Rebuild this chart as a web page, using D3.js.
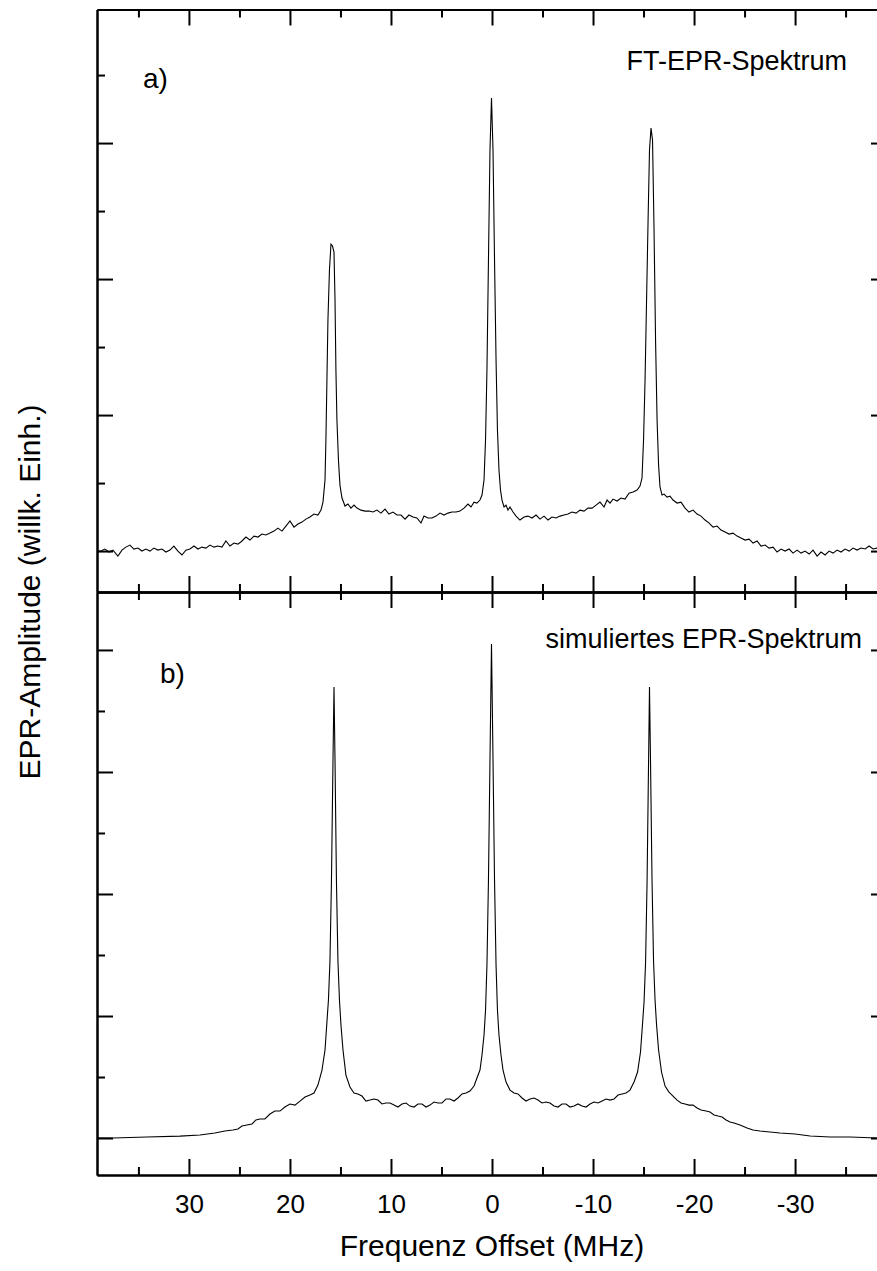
<!DOCTYPE html>
<html>
<head>
<meta charset="utf-8">
<script src="https://cdn.jsdelivr.net/npm/d3@7"></script>
<style>
  body { margin: 0; background: white; }
</style>
</head>
<body>
<div id="container"></div>
<script>
let w = 877;
let h = 1271;

// x axis (MHz), reversed
let xMajor = [30, 20, 10, 0, -10, -20, -30];
let xMinor = [35, 25, 15, 5, -5, -15, -25, -35];

// y ticks (arbitrary units)
let yTopMajor = [0, 100, 200, 300];
let yTopMinor = [50, 150, 250, 350];
let yBotMajor = [0, 100, 200, 300, 400];
let yBotMinor = [50, 150, 250, 350];

// a) FT-EPR spectrum: [MHz, amplitude]
let topSpectrum = [[39.11,0],[38.71,0],[38.32,1.5],[37.92,-0.7],[37.52,0.7],[37.03,-3.7],[36.63,0.7],[36.24,2.9],[35.84,4.4],[35.45,1.5],[35.05,2.2],[34.65,0],[34.26,1.5],[33.86,0],[33.47,2.2],[33.07,0.7],[32.67,1.5],[32.28,-0.7],[31.88,0.7],[31.49,3.7],[31.09,0],[30.69,-2.9],[30.30,0.7],[29.90,1.5],[29.50,3.7],[29.11,1.5],[28.71,2.9],[28.32,2.2],[27.92,4.4],[27.52,2.9],[27.13,3.7],[26.73,2.9],[26.34,7.4],[25.94,3.7],[25.54,5.9],[25.15,5.1],[24.75,7.4],[24.36,10.3],[23.96,8.1],[23.56,11],[23.17,10.3],[22.77,12.5],[22.38,11.8],[21.98,13.2],[21.58,14.7],[21.19,16.9],[20.79,14.7],[20.40,18.4],[20.00,22.1],[19.60,17.6],[19.21,19.9],[18.81,21.3],[18.42,23.5],[18.02,25],[17.62,27.2],[17.23,26.5],[16.93,30.1],[16.73,36],[16.53,52.2],[16.44,81.6],[16.34,125.7],[16.24,169.9],[16.09,206.6],[15.94,225.7],[15.79,224.3],[15.64,219.9],[15.54,184.6],[15.45,133.1],[15.35,96.3],[15.20,66.9],[15.05,48.5],[14.85,39],[14.55,33.1],[14.26,34.6],[13.96,31.6],[13.66,33.8],[13.37,31.6],[12.97,30.1],[12.57,29.4],[12.18,29.4],[11.78,28.7],[11.39,30.1],[10.99,27.9],[10.59,30.9],[10.20,27.2],[9.80,28.7],[9.41,26.5],[9.01,26.5],[8.61,23.5],[8.22,26.5],[7.82,25],[7.43,24.3],[7.03,20.6],[6.73,25.7],[6.34,24.3],[5.94,24.3],[5.54,25.7],[5.15,27.9],[4.75,26.5],[4.36,27.9],[3.96,28.7],[3.56,28.7],[3.17,29.4],[2.77,31.6],[2.38,34.6],[2.08,32.4],[1.78,36],[1.49,35.3],[1.19,37.5],[0.99,41.2],[0.79,52.2],[0.64,81.6],[0.50,133.1],[0.35,214],[0.20,294.9],[0.05,333.1],[-0.10,294.9],[-0.25,214],[-0.40,140.4],[-0.54,89],[-0.69,59.6],[-0.84,44.9],[-0.99,37.5],[-1.19,32.4],[-1.39,33.8],[-1.58,30.1],[-1.78,32.4],[-2.08,28.7],[-2.38,25.7],[-2.77,22.8],[-3.17,25],[-3.56,25.7],[-3.96,24.3],[-4.36,26.5],[-4.75,23.5],[-5.15,25.7],[-5.54,22.8],[-5.94,25],[-6.34,24.3],[-6.73,25.7],[-7.13,26.5],[-7.52,27.2],[-7.92,28.7],[-8.32,27.9],[-8.71,30.1],[-9.11,29.4],[-9.50,31.6],[-9.90,31.6],[-10.30,33.8],[-10.69,36],[-11.09,32.4],[-11.39,37.5],[-11.68,35.3],[-11.98,38.2],[-12.38,36.8],[-12.77,39],[-13.17,38.2],[-13.56,42.6],[-13.96,43.4],[-14.36,44.9],[-14.65,47.8],[-14.85,53.7],[-15.00,81.6],[-15.15,125.7],[-15.30,184.6],[-15.45,243.4],[-15.59,294.9],[-15.74,311],[-15.89,302.2],[-16.04,236],[-16.19,155.1],[-16.34,96.3],[-16.49,63.2],[-16.63,47.1],[-16.83,41.2],[-17.03,41.9],[-17.33,39.7],[-17.62,40.4],[-17.92,37.5],[-18.32,35.3],[-18.71,36],[-19.11,31.6],[-19.50,28.7],[-19.90,30.1],[-20.30,27.2],[-20.69,25.7],[-21.09,22.8],[-21.49,20.6],[-21.88,17.6],[-22.28,18.4],[-22.67,15.4],[-23.07,14],[-23.47,12.5],[-23.86,13.2],[-24.26,11],[-24.65,9.6],[-25.05,8.1],[-25.45,8.8],[-25.84,5.9],[-26.24,7.4],[-26.63,3.7],[-27.03,4.4],[-27.43,2.2],[-27.82,2.9],[-28.22,-0.7],[-28.61,1.5],[-29.01,0],[-29.41,1.5],[-29.80,-1.5],[-30.20,0.7],[-30.59,-1.5],[-30.99,0],[-31.39,-2.2],[-31.78,0.7],[-32.18,-3.7],[-32.57,-0.7],[-32.97,-2.9],[-33.37,0],[-33.76,-1.5],[-34.16,0.7],[-34.55,-0.7],[-34.95,1.5],[-35.35,0],[-35.74,2.2],[-36.14,0.7],[-36.53,2.2],[-36.93,1.5],[-37.33,3.7],[-37.72,1.5],[-38.12,2.2]];

// b) simulated spectrum: [MHz, amplitude]
let botSpectrum = [[39.11,0],[37.52,0],[34.16,0.8],[30.89,1.6],[28.91,2.5],[27.43,4.1],[26.44,5.7],[25.64,6.6],[25.15,7.4],[24.75,9.8],[24.26,10.7],[23.76,11.5],[23.37,14.8],[22.97,15.6],[22.48,15.6],[21.98,19.7],[21.49,22.1],[20.99,22.1],[20.50,25.4],[20.00,27.9],[19.50,27],[19.01,30.3],[18.51,33.6],[18.02,35.2],[17.62,36.9],[17.23,43.4],[16.83,55.7],[16.53,72.1],[16.34,95.1],[16.19,113.1],[16.04,145.1],[15.89,211.5],[15.74,309.8],[15.64,369.7],[15.54,309.8],[15.40,211.5],[15.25,145.1],[15.10,113.1],[14.95,92.6],[14.75,72.1],[14.46,51.6],[14.06,41.8],[13.66,36.9],[13.27,36.1],[12.87,34.4],[12.48,30.3],[12.08,31.1],[11.68,32],[11.29,31.1],[10.89,27.9],[10.50,28.7],[10.10,28.7],[9.70,27],[9.31,25.4],[8.91,27.9],[8.51,28.7],[8.12,26.2],[7.72,25.4],[7.33,27.9],[6.93,27.9],[6.53,25.4],[6.14,27],[5.74,29.5],[5.35,28.7],[4.95,28.7],[4.55,32],[4.16,32],[3.76,30.3],[3.37,32.8],[2.97,36.1],[2.57,36.9],[2.18,38.5],[1.78,42.6],[1.49,49.2],[1.19,55.7],[0.99,68],[0.79,84.4],[0.64,104.9],[0.50,141.8],[0.35,211.5],[0.20,309.8],[0.05,404.9],[-0.10,309.8],[-0.25,211.5],[-0.40,141.8],[-0.54,104.9],[-0.69,84.4],[-0.89,68],[-1.09,55.7],[-1.39,45.9],[-1.78,39.3],[-2.18,36.9],[-2.57,36.1],[-2.97,32.8],[-3.37,30.3],[-3.76,32],[-4.16,32.8],[-4.55,31.1],[-4.95,28.7],[-5.35,29.5],[-5.74,28.7],[-6.14,26.2],[-6.53,25.4],[-6.93,27.9],[-7.33,27.9],[-7.72,25.4],[-8.12,26.2],[-8.51,27.9],[-8.91,26.2],[-9.31,25.4],[-9.70,27.9],[-10.10,29.5],[-10.50,28.7],[-10.89,30.3],[-11.29,32],[-11.68,31.1],[-12.08,32],[-12.48,35.2],[-12.87,36.1],[-13.27,36.9],[-13.66,39.3],[-14.06,45.9],[-14.41,54.1],[-14.70,70.5],[-14.90,93.4],[-15.05,111.5],[-15.20,143.4],[-15.35,209.8],[-15.50,309.8],[-15.59,369.7],[-15.69,309.8],[-15.84,211.5],[-15.99,145.1],[-16.14,113.1],[-16.29,92.6],[-16.49,72.1],[-16.78,54.1],[-17.13,42.6],[-17.52,37.7],[-17.92,34.4],[-18.32,31.1],[-18.71,28.7],[-19.11,27.9],[-19.50,27],[-19.90,27],[-20.30,24.6],[-20.69,23],[-21.19,22.1],[-21.58,21.3],[-21.98,18.9],[-22.38,18],[-22.77,17.2],[-23.17,14.8],[-23.56,13.1],[-23.96,12.3],[-24.55,10.7],[-25.25,8.2],[-25.84,6.6],[-26.53,5.7],[-27.52,4.9],[-28.51,4.1],[-30.00,3.3],[-31.49,1.6],[-33.47,0.8],[-35.45,0.8],[-38.12,0]];

let font = "'Liberation Sans', Arial, sans-serif";

let plotLeft = 97, plotRight = 887, plotTop = 9.5, plotMid = 592, plotBottom = 1175;

let svg = d3.select("#container")
  .append("svg")
  .attr("width", w)
  .attr("height", h)
  .style("background-color", "white");

let xScale = d3.scaleLinear().domain([39.1, -39.1]).range([plotLeft, plotRight]);
let yTop = d3.scaleLinear().domain([-30.1, 398.2]).range([plotMid, plotTop]);
let yBot = d3.scaleLinear().domain([-30.3, 447.5]).range([plotBottom, plotMid]);

// clip to plot area
svg.append("clipPath").attr("id", "clipTop")
  .append("rect").attr("x", plotLeft).attr("y", plotTop)
  .attr("width", plotRight - plotLeft).attr("height", plotMid - plotTop);
svg.append("clipPath").attr("id", "clipBot")
  .append("rect").attr("x", plotLeft).attr("y", plotMid)
  .attr("width", plotRight - plotLeft).attr("height", plotBottom - plotMid);

let lineTop = d3.line().x(d => xScale(d[0])).y(d => yTop(d[1]));
let lineBot = d3.line().x(d => xScale(d[0])).y(d => yBot(d[1]));

svg.append("path")
  .datum(topSpectrum)
  .attr("d", lineTop)
  .attr("clip-path", "url(#clipTop)")
  .attr("fill", "none")
  .attr("stroke", "black")
  .attr("stroke-width", 1.1);

svg.append("path")
  .datum(botSpectrum)
  .attr("d", lineBot)
  .attr("clip-path", "url(#clipBot)")
  .attr("fill", "none")
  .attr("stroke", "black")
  .attr("stroke-width", 1.1);

function styleAxis(g) {
  g.select(".domain").attr("stroke", "black").attr("stroke-width", 2);
  g.selectAll(".tick line").attr("stroke", "black").attr("stroke-width", 2);
  g.selectAll("text").attr("font-family", font).attr("font-size", "26px").attr("fill", "black");
}

function noLabels(d) { return ""; }

function addXAxis(yPos, maker, withLabels) {
  let major = svg.append("g").attr("transform", "translate(0," + yPos + ")")
    .call(maker(xScale).tickValues(xMajor).tickSize(-16).tickSizeOuter(0)
      .tickPadding(20).tickFormat(withLabels ? (d => String(d)) : noLabels));
  styleAxis(major);
  let minor = svg.append("g").attr("transform", "translate(0," + yPos + ")")
    .call(maker(xScale).tickValues(xMinor).tickSize(-8).tickSizeOuter(0).tickFormat(noLabels));
  styleAxis(minor);
  return major;
}

addXAxis(plotBottom, d3.axisBottom, true);
addXAxis(plotMid, d3.axisBottom, false);   // ticks up into panel a
addXAxis(plotMid, d3.axisTop, false);      // ticks down into panel b
addXAxis(plotTop, d3.axisTop, false);

function addYAxis(xPos, maker, scale, majors, minors) {
  let g1 = svg.append("g").attr("transform", "translate(" + xPos + ",0)")
    .call(maker(scale).tickValues(majors).tickSize(-16).tickSizeOuter(0).tickFormat(noLabels));
  styleAxis(g1);
  let g2 = svg.append("g").attr("transform", "translate(" + xPos + ",0)")
    .call(maker(scale).tickValues(minors).tickSize(-8).tickSizeOuter(0).tickFormat(noLabels));
  styleAxis(g2);
}

addYAxis(plotLeft, d3.axisLeft, yTop, yTopMajor, yTopMinor);
addYAxis(plotLeft, d3.axisLeft, yBot, yBotMajor, yBotMinor);
addYAxis(plotRight, d3.axisRight, yTop, yTopMajor, yTopMinor);
addYAxis(plotRight, d3.axisRight, yBot, yBotMajor, yBotMinor);

// labels
svg.append("text")
  .text("Frequenz Offset (MHz)")
  .attr("x", xScale(0))
  .attr("y", 1256)
  .attr("text-anchor", "middle")
  .attr("font-family", font)
  .attr("font-size", "30px");

svg.append("text")
  .text("EPR-Amplitude (willk. Einh.)")
  .attr("transform", "translate(40," + plotMid + ") rotate(-90)")
  .attr("text-anchor", "middle")
  .attr("font-family", font)
  .attr("font-size", "30px");

svg.append("text")
  .text("a)")
  .attr("x", 143)
  .attr("y", 88)
  .attr("font-family", font)
  .attr("font-size", "28px");

svg.append("text")
  .text("FT-EPR-Spektrum")
  .attr("x", 847)
  .attr("y", 70)
  .attr("text-anchor", "end")
  .attr("font-family", font)
  .attr("font-size", "27px");

svg.append("text")
  .text("b)")
  .attr("x", 160)
  .attr("y", 683)
  .attr("font-family", font)
  .attr("font-size", "28px");

svg.append("text")
  .text("simuliertes EPR-Spektrum")
  .attr("x", 862)
  .attr("y", 648)
  .attr("text-anchor", "end")
  .attr("font-family", font)
  .attr("font-size", "27px");
</script>
</body>
</html>
